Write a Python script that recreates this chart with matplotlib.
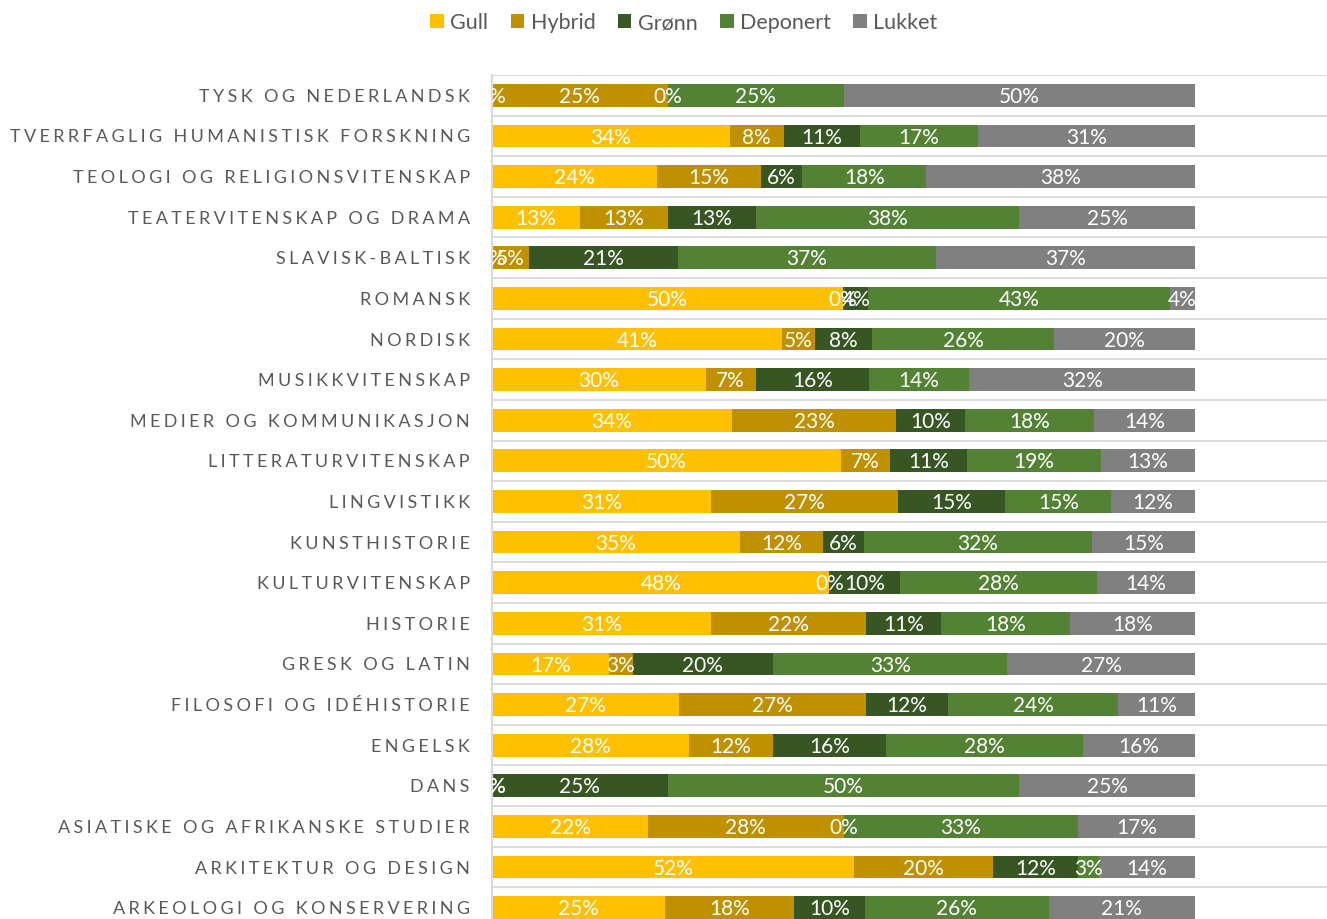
import matplotlib
matplotlib.use("Agg")
import matplotlib.pyplot as plt
from matplotlib.font_manager import FontProperties
import numpy as np

categories = ["ARKEOLOGI OG KONSERVERING", "ARKITEKTUR OG DESIGN",
              "ASIATISKE OG AFRIKANSKE STUDIER", "DANS", "ENGELSK",
              "FILOSOFI OG IDÉHISTORIE", "GRESK OG LATIN", "HISTORIE",
              "KULTURVITENSKAP", "KUNSTHISTORIE", "LINGVISTIKK",
              "LITTERATURVITENSKAP", "MEDIER OG KOMMUNIKASJON", "MUSIKKVITENSKAP",
              "NORDISK", "ROMANSK", "SLAVISK-BALTISK", "TEATERVITENSKAP OG DRAMA",
              "TEOLOGI OG RELIGIONSVITENSKAP", "TVERRFAGLIG HUMANISTISK FORSKNING",
              "TYSK OG NEDERLANDSK"]

series_names = ["Gull", "Hybrid", "Grønn", "Deponert", "Lukket"]

gull     = [24.6, 51.5, 22.2, 0.0, 28.0, 26.6, 16.7, 31.2, 48.0, 35.3, 31.2,
            49.6, 34.1, 30.4, 41.2, 50.0, 0.0, 12.5, 23.5, 33.8, 0.0]
hybrid   = [18.4, 19.7, 27.8, 0.0, 12.0, 26.6, 3.3, 22.0, 0.0, 11.8, 26.6,
            7.0, 23.4, 7.1, 4.7, 0.0, 5.3, 12.5, 14.7, 7.7, 25.0]
gronn    = [10.0, 12.1, 0.0, 25.0, 16.0, 11.7, 20.0, 10.7, 10.0, 5.9, 15.2,
            10.9, 9.8, 16.1, 8.2, 3.6, 21.1, 12.5, 5.9, 10.8, 0.0]
deponert = [26.2, 3.0, 33.3, 50.0, 28.0, 24.2, 33.3, 18.3, 28.0, 32.4, 15.1,
            19.1, 18.4, 14.3, 25.9, 42.9, 36.8, 37.5, 17.6, 16.9, 25.0]
lukket   = [20.8, 13.6, 16.7, 25.0, 16.0, 10.9, 26.7, 17.8, 14.0, 14.7, 11.9,
            13.4, 14.3, 32.1, 20.0, 3.6, 36.8, 25.0, 38.2, 30.8, 50.0]

colors = ["#FFC000", "#BF9000", "#375623", "#548235", "#808080"]

W, H = 1327, 919
fig = plt.figure(figsize=(W / 100, H / 100), dpi=100)
ax = fig.add_axes([492 / W, 0.0, 1 - 492 / W, 1 - 75.0 / H])

data = np.array([gull, hybrid, gronn, deponert, lukket])
totals = data.sum(axis=0)
frac = data / totals
y = np.arange(len(categories))
left = np.zeros(len(categories))

label_font = ["Lato", "DejaVu Sans"]
for i, name in enumerate(series_names):
    ax.barh(y, frac[i], left=left, height=0.56, color=colors[i], label=name,
            zorder=2)
    for j in range(len(categories)):
        cx = left[j] + frac[i][j] / 2
        txt = f"{int(data[i][j] + 0.5)}%"
        ax.text(cx, y[j] - 0.04, txt, ha="center", va="center", color="white",
                fontsize=15, family=label_font, zorder=3 + i, clip_on=True)
    left = left + frac[i]

# --- letter-spaced category labels: pick a uniform spacer by measurement ---
fp = FontProperties(family=label_font, size=13)
renderer = fig.canvas.get_renderer()
target_widths = {"TVERRFAGLIG HUMANISTISK FORSKNING": 458,
                 "ARKEOLOGI OG KONSERVERING": 353,
                 "TYSK OG NEDERLANDSK": 265,
                 "DANS": 59}
base = ["\u200A", "\u2006", "\u2009", "\u2005", "\u2004", "\u2008", "\u202F"]
candidates = base + [a + b for a in base for b in base]


def spaced(s, sp):
    return sp.join(list(s))


best_sp, best_err = "\u2009", None
for sp in candidates:
    err = 0.0
    for lab, tw in target_widths.items():
        w = renderer.get_text_width_height_descent(spaced(lab, sp), fp,
                                                   ismath=False)[0]
        err += (w - tw) ** 2
    if best_err is None or err < best_err:
        best_sp, best_err = sp, err

ax.set_yticks(y)
ax.set_yticklabels([spaced(c, best_sp) for c in categories], family=label_font,
                   fontsize=13, color="#595959")
ax.tick_params(axis="y", length=0, pad=16)
ax.set_xticks([])
ax.set_yticks(np.arange(-0.5, len(categories), 1.0), minor=True)
ax.tick_params(axis="y", which="minor", length=0)
ax.grid(axis="y", which="minor", color="#D9D9D9", linewidth=1.3, zorder=0)
ax.set_axisbelow(True)

ax.set_xlim(0, (1327 - 492) / 703)
ax.set_ylim(-0.28, len(categories) - 0.5)

for s in ["top", "right", "bottom"]:
    ax.spines[s].set_visible(False)
ax.spines["left"].set_color("#D9D9D9")
ax.spines["left"].set_linewidth(1.6)

leg = fig.legend(loc="center", bbox_to_anchor=(684 / W, 1 - 23 / H), ncol=5,
                 frameon=False, handlelength=0.62, handleheight=0.62,
                 handletextpad=0.3, columnspacing=1.05,
                 prop={"family": label_font, "size": 15.5})
for t in leg.get_texts():
    t.set_color("#595959")

fig.savefig("out.png", dpi=100)
